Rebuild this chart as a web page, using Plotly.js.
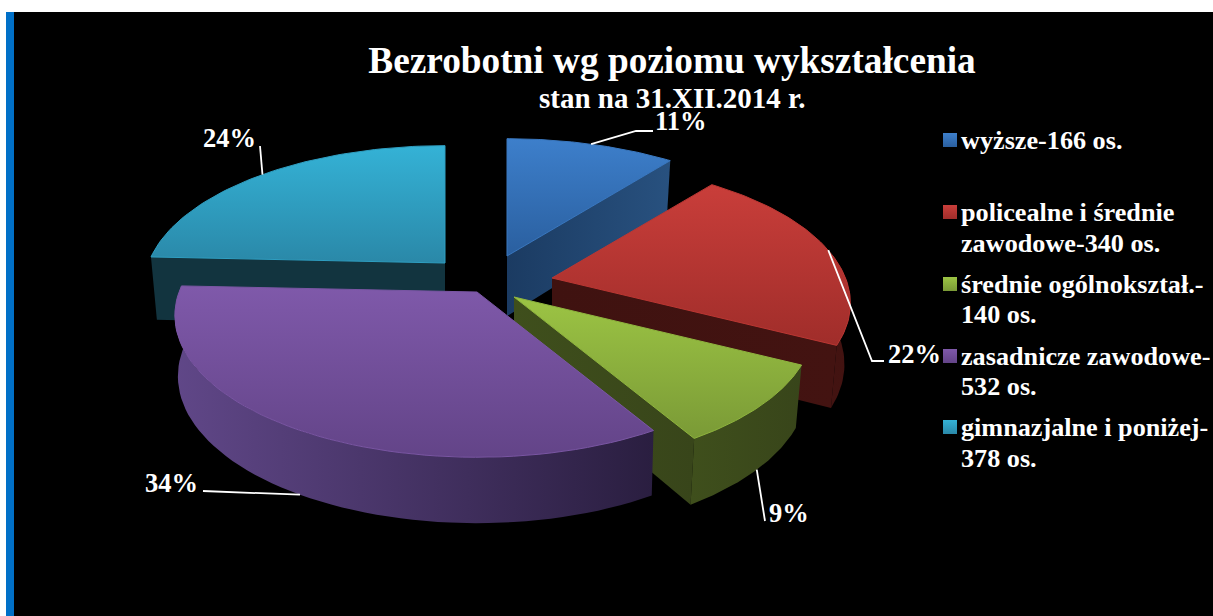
<!DOCTYPE html>
<html><head><meta charset="utf-8">
<script src="https://cdn.plot.ly/plotly-3.0.1.min.js"></script>
<style>html,body{margin:0;padding:0;background:#fff}#c{width:1213px;height:616px}</style>
</head><body><div id="c"></div>
<script>
// --- data ---
const titleText = 'Bezrobotni wg poziomu wykształcenia';
const subtitleText = 'stan na 31.XII.2014 r.';
const categoryLines = [['wyższe-166 os.'], ['policealne i średnie', 'zawodowe-340 os.'], ['średnie ogólnokształ.-', '140 os.'], ['zasadnicze zawodowe-', '532 os.'], ['gimnazjalne i poniżej-', '378 os.']];
const values = [166, 340, 140, 532, 378];
const percentLabels = ['11%', '22%', '9%', '34%', '24%'];

// --- styles ---
const topLight = ['#3d7fcb', '#c93e3a', '#9cc444', '#7f59aa', '#34b2d6'];
const topDark  = ['#2a5f9f', '#a02d2a', '#7a9a36', '#634488', '#2a88a8'];
const wallA = ['#1b3b62', '#3f1210', '#3f4f1c', '#604788', '#12343f'];
const wallB = ['#28517f', '#431311', '#38451a', '#2a1e40', '#12343f'];
const edgeCol = ['#3a78c0', '#bb3733', '#8fb53e', '#7a56a4', '#2f9fc2'];

// --- projection of the tilted disk ---
const apexX = [507, 552, 514, 477, 445];
const apexY = [256, 278, 297, 292, 263];
const sliceScale = [1.02, 0.985, 0.985, 1, 0.995];
const sliceTilt = [0.2, 0.18, 0.2, 0.165, 0.17];
const sliceDepth = [60, 60, 60, 60, 63];
const sliceShrink = [0.98, 0.98, 0.98, 0.99, 0.98];
const RX = 298, RY = 138;
// which side faces of every slice face the viewer
const faces = [['end'], ['rim', 'end'], ['end', 'rim'], ['rim'], ['start']];
// leader line bends and label anchors
const bends = [[[636,131],[653,131]], [[872,361],[884,361]], [[765,521]], [[203,491]], [[260,146]]];
const labelX = [681, 914.5, 788.5, 171.5, 229.5];
const labelY = [121, 354, 513, 483, 138];
const leaderLower = [false, false, true, true, false];
const paintOrder = [0, 4, 1, 2, 3];
// legend placement
const legendMarkX = 950, legendTextX = 961;
const legendLineY = [[140], [212, 243], [284, 314], [356, 386], [427, 458]];

const total = values.reduce((a, b) => a + b, 0);
const starts = []; let acc = 0;
values.forEach(v => { starts.push(acc / total * 2 * Math.PI); acc += v; });
function pt(i, th, low) {
  const u = Math.sin(th), v = Math.cos(th), s = 1 / (1 + sliceTilt[i] * v);
  const f = low ? sliceShrink[i] : 1, r = sliceScale[i];
  return [apexX[i] + RX * r * u * s * f, apexY[i] - RY * r * v * s + (low ? sliceDepth[i] + (s - 1) * 30 : 0)];
}
function arc(i, a, b, low) {
  const out = [];
  const n = 60;
  for (let k = 0; k <= n; k++) out.push(pt(i, a + (b - a) * k / n, low));
  return out;
}
function polyTrace(p, light, dark, dir, line) {
  const closed = p.concat([p[0]]);
  return {
    type: 'scatter', mode: 'lines', x: closed.map(q => q[0]), y: closed.map(q => q[1]),
    fill: 'toself', showlegend: false, hoverinfo: 'skip',
    line: line ? {color: line, width: 1} : {width: 0, color: 'rgba(0,0,0,0)'},
    fillgradient: {type: dir, colorscale: [[0, dir === 'vertical' ? dark : light], [1, dir === 'vertical' ? light : dark]]}
  };
}
const traces = [];
paintOrder.forEach(i => {
  const a = starts[i], b = a + values[i] / total * 2 * Math.PI;
  const apexTop = [apexX[i], apexY[i]], apexLow = [apexX[i], apexY[i] + sliceDepth[i]];
  faces[i].forEach(f => {
    let p;
    if (f === 'rim') p = arc(i, a, b, false).concat(arc(i, a, b, true).reverse());
    if (f === 'end') p = [apexTop, pt(i, b, false), pt(i, b, true), apexLow];
    if (f === 'start') p = [apexTop, pt(i, a, false), pt(i, a, true), apexLow];
    traces.push(polyTrace(p, wallA[i], wallB[i], 'horizontal'));
  });
  traces.push(polyTrace([apexTop].concat(arc(i, a, b, false)), topLight[i], topDark[i], 'vertical', edgeCol[i]));
});
// leader lines
values.forEach((v, i) => {
  const a = starts[i], b = a + v / total * 2 * Math.PI;
  const path = [pt(i, (a + b) / 2, leaderLower[i])].concat(bends[i]);
  traces.push({type: 'scatter', mode: 'lines', x: path.map(q => q[0]), y: path.map(q => q[1]),
    line: {color: '#fff', width: 1.8}, showlegend: false, hoverinfo: 'skip'});
});
// legend swatches
categoryLines.forEach((c, i) => traces.push({
  type: 'scatter', mode: 'markers', x: [legendMarkX], y: [legendLineY[i][0]], showlegend: false, hoverinfo: 'skip',
  marker: {symbol: 'square', size: 14, color: topLight[i], gradient: {type: 'vertical', color: topDark[i]}, line: {width: 0}}
}));
const serif = 'Liberation Serif, Times New Roman, serif';
const whiteBold = size => ({family: serif, size: size, color: '#fff', weight: 700});
const annotations = percentLabels.map((t, i) => ({
  x: labelX[i], y: labelY[i], xref: 'x', yref: 'y', text: t, showarrow: false, xanchor: 'center', yanchor: 'middle', font: whiteBold(26.5)
}));
annotations.push({x: 672, y: 98, xref: 'x', yref: 'y', text: subtitleText, showarrow: false, xanchor: 'center', yanchor: 'middle', font: whiteBold(29)});
categoryLines.forEach((lines, i) => lines.forEach((t, k) => annotations.push({
  x: legendTextX - 1, y: legendLineY[i][k], xref: 'x', yref: 'y', text: t, showarrow: false, xanchor: 'left', yanchor: 'middle', font: whiteBold(26.2), borderpad: 0
})));
const layout = {
  width: 1213, height: 616, autosize: false, showlegend: false,
  margin: {l: 0, r: 0, t: 0, b: 0, autoexpand: false},
  paper_bgcolor: '#ffffff', plot_bgcolor: 'rgba(0,0,0,0)',
  xaxis: {range: [0, 1213], visible: false, fixedrange: true},
  yaxis: {range: [616, 0], visible: false, fixedrange: true},
  shapes: [
    {type: 'rect', xref: 'paper', yref: 'paper', x0: 14 / 1213, x1: 1, y0: 0, y1: 604 / 616, fillcolor: '#000', line: {width: 0}, layer: 'below'},
    {type: 'rect', xref: 'paper', yref: 'paper', x0: 6 / 1213, x1: 14 / 1213, y0: 0, y1: 604 / 616, fillcolor: '#0070c8', line: {width: 0}, layer: 'below'}
  ],
  title: {text: titleText, font: whiteBold(37.3), x: 672 / 1213, xanchor: 'center', y: 1 - 60 / 616, yanchor: 'middle', pad: {t: 0}},
  annotations: annotations
};
Plotly.newPlot('c', traces, layout, {displayModeBar: false});
</script></body></html>
